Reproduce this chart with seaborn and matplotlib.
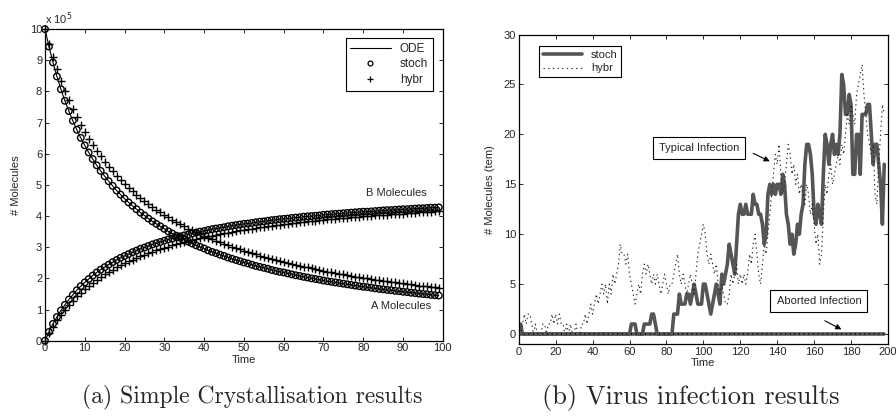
import seaborn as sns
import matplotlib.pyplot as plt
from matplotlib.lines import Line2D
import numpy as np

# ---- (a) crystallisation data, units of 1e5 molecules, one sample per time unit
time_a = list(range(100))
a_stoch = [10.00, 9.44, 8.93, 8.48, 8.07, 7.70, 7.37, 7.06, 6.77, 6.51,
           6.27, 6.04, 5.83, 5.63, 5.45, 5.28, 5.12, 4.97, 4.82, 4.69,
           4.56, 4.44, 4.33, 4.22, 4.11, 4.02, 3.92, 3.83, 3.75, 3.67,
           3.59, 3.51, 3.44, 3.37, 3.30, 3.24, 3.18, 3.12, 3.06, 3.01,
           2.96, 2.90, 2.85, 2.81, 2.76, 2.72, 2.67, 2.63, 2.59, 2.55,
           2.51, 2.48, 2.44, 2.40, 2.37, 2.34, 2.31, 2.27, 2.24, 2.21,
           2.19, 2.16, 2.13, 2.10, 2.08, 2.05, 2.03, 2.00, 1.98, 1.96,
           1.93, 1.91, 1.89, 1.87, 1.85, 1.83, 1.81, 1.79, 1.77, 1.75,
           1.73, 1.72, 1.70, 1.68, 1.66, 1.65, 1.63, 1.62, 1.60, 1.59,
           1.57, 1.56, 1.54, 1.53, 1.51, 1.50, 1.49, 1.47, 1.46, 1.45]
b_stoch = [0.00, 0.28, 0.54, 0.76, 0.97, 1.15, 1.32, 1.47, 1.62, 1.75,
           1.87, 1.98, 2.09, 2.19, 2.28, 2.36, 2.44, 2.52, 2.59, 2.66,
           2.72, 2.78, 2.84, 2.89, 2.95, 2.99, 3.04, 3.09, 3.13, 3.17,
           3.21, 3.25, 3.28, 3.32, 3.35, 3.38, 3.41, 3.44, 3.47, 3.50,
           3.52, 3.55, 3.58, 3.60, 3.62, 3.64, 3.67, 3.69, 3.71, 3.73,
           3.75, 3.76, 3.78, 3.80, 3.82, 3.83, 3.85, 3.87, 3.88, 3.90,
           3.91, 3.92, 3.94, 3.95, 3.96, 3.98, 3.99, 4.00, 4.01, 4.02,
           4.04, 4.05, 4.06, 4.07, 4.08, 4.09, 4.10, 4.11, 4.12, 4.13,
           4.14, 4.14, 4.15, 4.16, 4.17, 4.18, 4.19, 4.19, 4.20, 4.21,
           4.22, 4.22, 4.23, 4.24, 4.25, 4.25, 4.26, 4.27, 4.27, 4.28]
a_hybr = [10.00, 9.53, 9.10, 8.71, 8.35, 8.02, 7.72, 7.43, 7.17, 6.93,
          6.70, 6.48, 6.28, 6.09, 5.92, 5.75, 5.59, 5.44, 5.30, 5.16,
          5.04, 4.91, 4.80, 4.69, 4.58, 4.48, 4.38, 4.29, 4.20, 4.12,
          4.03, 3.96, 3.88, 3.81, 3.74, 3.67, 3.60, 3.54, 3.48, 3.42,
          3.36, 3.31, 3.26, 3.21, 3.16, 3.11, 3.06, 3.01, 2.97, 2.93,
          2.89, 2.85, 2.81, 2.77, 2.73, 2.69, 2.66, 2.62, 2.59, 2.56,
          2.53, 2.50, 2.47, 2.44, 2.41, 2.38, 2.35, 2.32, 2.30, 2.27,
          2.25, 2.22, 2.20, 2.17, 2.15, 2.13, 2.11, 2.09, 2.06, 2.04,
          2.02, 2.00, 1.98, 1.96, 1.95, 1.93, 1.91, 1.89, 1.87, 1.86,
          1.84, 1.82, 1.81, 1.79, 1.77, 1.76, 1.74, 1.73, 1.71, 1.70]
b_hybr = [0.00, 0.24, 0.45, 0.65, 0.83, 0.99, 1.14, 1.29, 1.42, 1.54,
          1.65, 1.76, 1.86, 1.96, 2.04, 2.13, 2.21, 2.28, 2.35, 2.42,
          2.48, 2.55, 2.60, 2.66, 2.71, 2.76, 2.81, 2.86, 2.90, 2.94,
          2.99, 3.02, 3.06, 3.10, 3.13, 3.17, 3.20, 3.23, 3.26, 3.29,
          3.32, 3.35, 3.37, 3.40, 3.42, 3.45, 3.47, 3.50, 3.52, 3.54,
          3.56, 3.58, 3.60, 3.62, 3.64, 3.66, 3.67, 3.69, 3.71, 3.72,
          3.74, 3.75, 3.77, 3.78, 3.80, 3.81, 3.83, 3.84, 3.85, 3.87,
          3.88, 3.89, 3.90, 3.92, 3.93, 3.94, 3.95, 3.96, 3.97, 3.98,
          3.99, 4.00, 4.01, 4.02, 4.03, 4.04, 4.05, 4.06, 4.07, 4.07,
          4.08, 4.09, 4.10, 4.11, 4.12, 4.12, 4.13, 4.14, 4.15, 4.15]
# ODE solution runs through the stochastic means
ode_a = list(a_stoch)
ode_b = list(b_stoch)

# ---- (b) virus infection data
stoch_t = [0, 1, 2, 60, 61, 63, 64, 67, 68, 71, 72, 73, 75, 83, 84, 86, 87, 88, 90, 91,
           92, 93, 95, 96, 97, 99, 100, 101, 102, 103, 104, 105, 106, 107, 108, 109, 110, 111, 112, 113,
           114, 115, 116, 117, 118, 119, 120, 121, 122, 123, 124, 126, 127, 128, 129, 130, 131, 132, 133, 134,
           135, 136, 137, 138, 139, 140, 141, 142, 143, 144, 145, 146, 147, 148, 149, 150, 151, 152, 153, 154,
           155, 156, 157, 158, 159, 160, 161, 162, 163, 164, 165, 166, 167, 168, 169, 170, 171, 172, 173, 174,
           175, 176, 177, 178, 179, 180, 181, 182, 183, 184, 185, 186, 187, 188, 189, 190, 191, 192, 193, 194,
           195, 196, 197, 198]
stoch_v = [1, 1, 0, 0, 1, 1, 0, 0, 1, 1, 2, 2, 0, 0, 2, 2, 4, 3, 3, 4,
           4, 3, 5, 4, 3, 3, 5, 5, 4, 3, 2, 3, 4, 5, 4, 3, 6, 5, 6, 7,
           9, 8, 7, 6, 9, 12, 13, 12, 12, 13, 12, 12, 14, 13, 13, 12, 12, 11, 9, 10,
           14, 15, 14, 15, 14, 15, 15, 14, 16, 15, 12, 11, 9, 10, 8, 9, 11, 10, 12, 13,
           17, 19, 19, 18, 16, 12, 11, 13, 12, 11, 16, 20, 19, 17, 19, 20, 18, 19, 18, 20,
           26, 25, 22, 22, 24, 23, 16, 16, 20, 20, 16, 22, 22, 22, 23, 23, 20, 17, 19, 19,
           17, 15, 11, 17]
hybr_t = list(range(199))
hybr_v = [0, 0, 1, 2, 1, 2, 2, 1, 0, 1, 0, 0, 0, 1, 1, 0, 1, 1, 2, 1,
          2, 1, 2, 1, 1, 0, 1, 0, 1, 0, 0, 1, 0, 0, 1, 1, 2, 1, 2, 3,
          2, 3, 4, 3, 4, 5, 4, 5, 3, 5, 4, 6, 5, 6, 7, 9, 8, 8, 7, 8,
          6, 5, 4, 3, 4, 5, 4, 6, 7, 6, 7, 6, 5, 6, 5, 6, 5, 4, 5, 6,
          5, 4, 5, 5, 6, 7, 8, 6, 5, 6, 5, 4, 5, 6, 5, 4, 6, 8, 9, 10,
          11, 10, 8, 7, 8, 7, 6, 7, 5, 4, 5, 4, 3, 3, 4, 6, 5, 6, 7, 5,
          6, 5, 6, 5, 6, 8, 7, 9, 10, 8, 6, 5, 7, 9, 8, 10, 12, 14, 16, 18,
          17, 19, 16, 14, 15, 17, 19, 18, 16, 17, 15, 16, 14, 15, 14, 13, 15, 14, 12, 13,
          11, 9, 10, 7, 8, 12, 15, 14, 16, 17, 15, 16, 17, 18, 17, 19, 18, 20, 22, 21,
          23, 22, 21, 24, 25, 26, 27, 24, 22, 20, 19, 18, 19, 14, 13, 17, 20, 23, 22]
aborted_t = [0, 198]
aborted_v = [0, 0]

sns.set_style("ticks")
plt.rcParams['font.family'] = ['Liberation Sans', 'DejaVu Sans']
plt.rcParams['xtick.direction'] = 'in'
plt.rcParams['ytick.direction'] = 'in'
plt.rcParams['xtick.top'] = True
plt.rcParams['ytick.right'] = True
plt.rcParams['axes.edgecolor'] = 'black'
plt.rcParams['axes.linewidth'] = 0.9

fig = plt.figure(figsize=(8.96, 4.16), dpi=100)
ax1 = fig.add_axes([0.0502, 0.181, 0.444, 0.749])
ax2 = fig.add_axes([0.579, 0.173, 0.412, 0.744])

# ---- panel (a)
sns.lineplot(x=time_a, y=ode_a, ax=ax1, color='black', lw=0.8, estimator=None)
sns.lineplot(x=time_a, y=ode_b, ax=ax1, color='black', lw=0.8, estimator=None)
for ys in (a_stoch, b_stoch):
    sns.scatterplot(x=time_a, y=ys, ax=ax1, marker='o', s=22, facecolors='none',
                    edgecolor='black', linewidth=1.0, clip_on=False, zorder=3)
for ys in (a_hybr, b_hybr):
    sns.scatterplot(x=time_a, y=ys, ax=ax1, marker='+', s=26, color='black',
                    linewidth=1.0, clip_on=False, zorder=3)
ax1.set_xlim(0, 100)
ax1.set_ylim(0, 10)
ax1.set_xticks(range(0, 101, 10))
ax1.set_yticks(range(0, 11))
ax1.tick_params(labelsize=8, length=3, width=0.7, pad=2)
ax1.set_xlabel('Time', fontsize=8, labelpad=1)
ax1.set_ylabel('# Molecules', fontsize=8, labelpad=6)
ax1.text(0, 1.008, r'x 10$^5$', transform=ax1.transAxes, fontsize=8, ha='left', va='bottom')
ax1.text(96, 4.57, 'B Molecules', fontsize=8, ha='right', va='bottom')
ax1.text(97, 1.12, 'A Molecules', fontsize=8, ha='right', va='center')
h1 = [Line2D([], [], color='black', lw=0.8),
      Line2D([], [], color='black', ls='none', marker='o', ms=3.5, mfc='none', mew=0.9),
      Line2D([], [], color='black', ls='none', marker='+', ms=4.5, mew=0.9)]
leg1 = ax1.legend(h1, ['ODE', 'stoch', 'hybr'], loc='upper right', fontsize=8.5, frameon=True,
                  fancybox=False, edgecolor='black', framealpha=1, handlelength=3.4,
                  borderpad=0.4, labelspacing=0.3, bbox_to_anchor=(0.99, 0.99))
leg1.get_frame().set_linewidth(0.8)

# ---- panel (b)
gray = '#555555'
sns.lineplot(x=stoch_t, y=stoch_v, ax=ax2, color=gray, lw=2.6, estimator=None)
sns.lineplot(x=hybr_t, y=hybr_v, ax=ax2, color='#222222', lw=0.8, estimator=None,
             dashes=False, linestyle=(0, (1.2, 3)))
sns.lineplot(x=aborted_t, y=aborted_v, ax=ax2, color=gray, lw=2.6, estimator=None)
sns.lineplot(x=aborted_t, y=aborted_v, ax=ax2, color='black', lw=1.2, estimator=None,
             linestyle=(0, (0.6, 2.2)))
ax2.set_xlim(0, 200)
ax2.set_ylim(-1, 30)
ax2.set_xticks(range(0, 201, 20))
ax2.set_yticks(range(0, 31, 5))
ax2.tick_params(labelsize=8, length=3, width=0.7, pad=2)
ax2.set_xlabel('Time', fontsize=8, labelpad=1)
ax2.set_ylabel('# Molecules (tem)', fontsize=8, labelpad=6)
box = dict(boxstyle='square,pad=0.55', facecolor='white', edgecolor='black', lw=0.8)
arrow = dict(arrowstyle='-|>', color='black', lw=0.8, shrinkA=0, shrinkB=0, mutation_scale=8)
ax2.text(97.6, 18.6, 'Typical Infection', fontsize=8, ha='center', va='center', bbox=box)
ax2.annotate('', xy=(136, 17.3), xytext=(127, 18.1), arrowprops=arrow)
ax2.text(162.6, 3.3, 'Aborted Infection', fontsize=8, ha='center', va='center', bbox=box)
ax2.annotate('', xy=(174.8, 0.47), xytext=(165.8, 1.33), arrowprops=arrow)
h2 = [Line2D([], [], color=gray, lw=2.6),
      Line2D([], [], color='#222222', lw=0.8, linestyle=(0, (1.2, 3)))]
leg2 = ax2.legend(h2, ['stoch', 'hybr'], loc='upper left', fontsize=8, frameon=True,
                  fancybox=False, edgecolor='black', framealpha=1, handlelength=3.5,
                  borderpad=0.35, labelspacing=0.3, bbox_to_anchor=(0.04, 0.98))
leg2.get_frame().set_linewidth(0.8)

# captions
fig.text(0.281, 0.045, '(a) Simple Crystallisation results', family='cmr10', fontsize=17,
         ha='center', va='center')
fig.text(0.771, 0.045, '(b) Virus infection results', family='cmr10', fontsize=19,
         ha='center', va='center')

fig.savefig('out.png', dpi=100)
